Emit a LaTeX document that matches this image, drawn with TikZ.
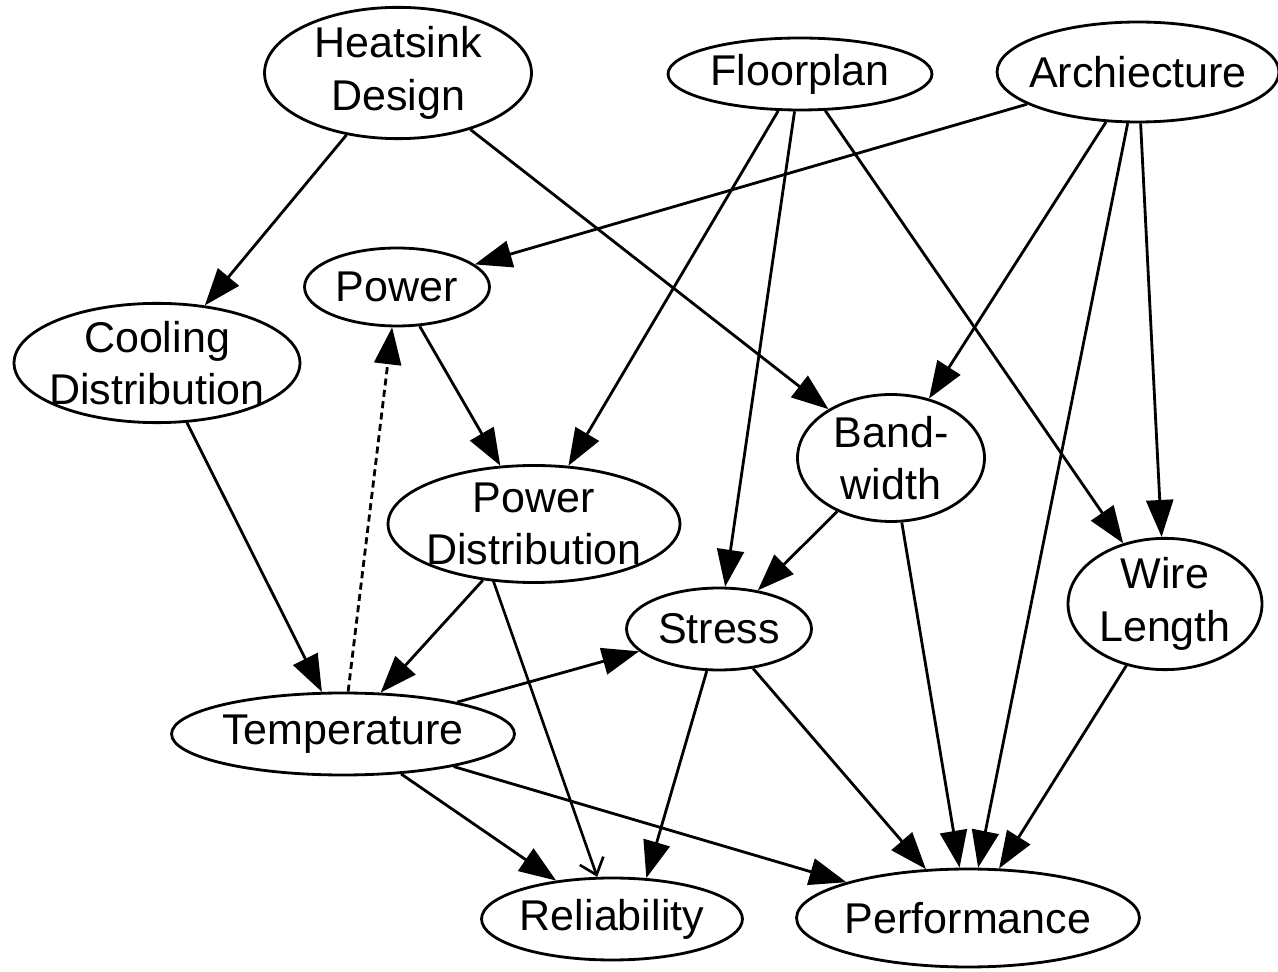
\documentclass[tikz,border=0pt]{standalone}
\usepackage{fontspec}
\setmainfont{Liberation Sans}
\usetikzlibrary{shapes.geometric, arrows.meta}

\begin{document}
\begin{tikzpicture}[x=0.02cm, y=-0.02cm,
  factor/.style={ellipse, draw, line width=1.6pt, inner xsep=-1cm, inner ysep=0pt, align=center, font=\fontsize{24.5}{30}\selectfont},
  dep/.style={-{Triangle[length=0.74cm, width=0.54cm]}, line width=1.6pt},
  hint/.style={-{Straight Barb[length=0.3cm, width=0.5cm]}, line width=1.5pt}
]
  \useasboundingbox (0,0) rectangle (1278,972);

  % top row
  \node[factor, minimum width=5.34cm, minimum height=2.2cm] (heat) at (398,73) {Heatsink\\Design};
  \node[factor, minimum width=5.28cm, minimum height=1.44cm] (floor) at (800,74) {Floorplan};
  \node[factor, minimum width=5.64cm, minimum height=2.0cm] (arch) at (1138,72) {Archiecture};

  % middle
  \node[factor, minimum width=3.7cm, minimum height=1.56cm] (power) at (397,287) {Power};
  \node[factor, minimum width=5.72cm, minimum height=2.2cm] (cool) at (157,363) {Cooling\\Distribution};
  \node[factor, minimum width=3.74cm, minimum height=2.54cm] (band) at (891,458) {Band-\\width};
  \node[factor, minimum width=5.84cm, minimum height=2.24cm] (pdist) at (534,524) {Power\\Distribution};
  \node[factor, minimum width=3.7cm, minimum height=1.64cm] (stress) at (719,629) {Stress};
  \node[factor, minimum width=3.88cm, minimum height=2.56cm] (wire) at (1165,604) {Wire\\Length};
  \node[factor, minimum width=6.86cm, minimum height=1.64cm] (temp) at (343,734) {Temperature};

  % bottom row
  \node[factor, minimum width=5.22cm, minimum height=1.64cm] (rel) at (612,919) {Reliability};
  \node[factor, minimum width=6.86cm, minimum height=1.96cm] (perf) at (968,918) {Performance};

  \draw[dep] (heat) -- (cool);
  \draw[dep] (heat) -- (band);
  \draw[dep] (floor) -- (pdist);
  \draw[dep] (floor) -- (stress);
  \draw[dep] (floor) -- (wire);
  \draw[dep] (arch) -- (power);
  \draw[dep] (arch) -- (band);
  \draw[dep] (arch) -- (perf);
  \draw[dep] (arch) -- (wire);
  \draw[dep] (power) -- (pdist);
  \draw[dep] (cool) -- (temp);
  \draw[dep, dash pattern=on 4pt off 2.5pt] (temp) -- (power);
  \draw[dep] (pdist) -- (temp);
  \draw[dep] (band) -- (stress);
  \draw[dep] (band) -- (perf);
  \draw[dep] (temp) -- (stress);
  \draw[dep] (temp) -- (rel);
  \draw[dep] (temp) -- (perf);
  \draw[dep] (stress) -- (rel.50);
  \draw[dep] (stress) -- (perf);
  \draw[dep] (wire) -- (perf);

  % added by hand
  \coordinate (pdtail) at (493,580);
  \draw[hint] (pdtail) -- (rel);
\end{tikzpicture}
\end{document}
